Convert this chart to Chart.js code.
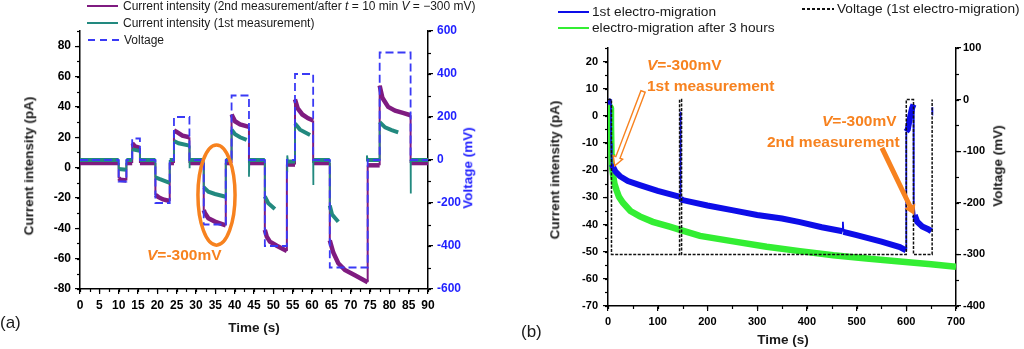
<!DOCTYPE html>
<html>
<head>
<meta charset="utf-8">
<script src="https://cdn.jsdelivr.net/npm/chart.js@4.4.1/dist/chart.umd.min.js"></script>
<style>
  body { margin: 0; background: #fff; }
  #fig { position: relative; width: 1024px; height: 349px; overflow: hidden; font-family: 'Liberation Sans', Arial, sans-serif; color: #1a1a1a; }
  #fig canvas { position: absolute; top: 0; }
  .t { position: absolute; white-space: nowrap; transform: translateY(-50%); line-height: 1; }
  .c { position: absolute; white-space: nowrap; transform: translate(-50%, -50%); line-height: 1; font-weight: bold; font-size: 13.5px; }
  .rot { position: absolute; white-space: nowrap; transform: translate(-50%, -50%) rotate(-90deg); line-height: 1; font-weight: bold; font-size: 13.5px; }
  .sw { position: absolute; height: 2px; transform: translateY(-50%); }
  .note { color: #f7821f; font-weight: bold; font-size: 15.5px; }
  .lgA { font-size: 12px; }
  .lgB { font-size: 13.7px; }
</style>
</head>
<body>
<div id="fig">
  <canvas id="chartA" width="512" height="349" style="left:0"></canvas>
  <canvas id="chartB" width="512" height="349" style="left:512px"></canvas>

  <!-- panel (a) legend -->
  <div class="sw" style="left:87px;top:5.5px;width:31px;background:#7f1b80"></div>
  <div class="t lgA" style="left:123px;top:5.5px">Current intensity (2nd measurement/after <i>t</i> = 10 min <i>V</i> = −300 mV)</div>
  <div class="sw" style="left:87px;top:23px;width:31px;background:#22897f"></div>
  <div class="t lgA" style="left:123px;top:23px">Current intensity (1st measurement)</div>
  <div class="sw" style="left:88px;top:40px;width:34px;background:repeating-linear-gradient(90deg,#3a3af5 0 7px,transparent 7px 12px)"></div>
  <div class="t lgA" style="left:124px;top:40px">Voltage</div>

  <!-- panel (a) titles and notes -->
  <div class="rot" style="left:29px;top:166px">Current intensity (pA)</div>
  <div class="rot" style="left:468px;top:168px;color:#1f1fff">Voltage (mV)</div>
  <div class="c" style="left:254px;top:328px">Time (s)</div>
  <div class="t" style="left:0;top:322px;font-size:17px">(a)</div>
  <div class="t note" style="left:147px;top:254.5px"><i>V</i>=-300mV</div>

  <!-- panel (b) legend -->
  <div class="sw" style="left:558px;top:11.7px;width:31px;background:#0d0de8"></div>
  <div class="t lgB" style="left:592px;top:11.7px">1st electro-migration</div>
  <div class="sw" style="left:558px;top:28px;width:31px;background:#33ee33"></div>
  <div class="t lgB" style="left:592px;top:28px">electro-migration after 3 hours</div>
  <div class="sw" style="left:802px;top:9px;width:32px;background:repeating-linear-gradient(90deg,#111 0 3px,transparent 3px 5px)"></div>
  <div class="t lgB" style="left:837px;top:9px">Voltage (1st electro-migration)</div>

  <!-- panel (b) titles and notes -->
  <div class="rot" style="left:555px;top:170px">Current intensity (pA)</div>
  <div class="rot" style="left:998px;top:166px">Voltage (mV)</div>
  <div class="c" style="left:783px;top:340px">Time (s)</div>
  <div class="t" style="left:521px;top:331px;font-size:17px">(b)</div>
  <div class="t note" style="left:647px;top:65px"><i>V</i>=-300mV</div>
  <div class="t note" style="left:647px;top:86px">1st measurement</div>
  <div class="t note" style="left:822px;top:121px"><i>V</i>=-300mV</div>
  <div class="t note" style="left:767px;top:141.5px">2nd measurement</div>
</div>

<script>
// (a) current steps, [time s, current pA]; null marks a break in the trace
const secondRunCurrent = [
  [0, 3], [10, 3], [10, -7], [10.5, -8], [12, -8.5], [12, 3], [13.5, 3], [13.5, 16], [14.2, 14], [15.5, 13], [15.5, 3],
  [19.5, 3], [19.5, -18], [20.3, -19.5], [21.5, -21], [23.2, -22], [23.2, 3], [24.3, 3], [24.3, 24.5], [25, 23.5], [26.5, 21], [28.3, 20], [28.3, 3],
  [32, 3], [32, -28], [32.3, -30], [33.2, -33.4], [34.9, -35.6], [37.7, -38], [37.7, 3], [39.2, 3], [39.2, 35], [40.1, 30.5], [41.4, 28.5], [43.7, 26.8], [43.7, 3],
  [47.8, 3], [47.8, -41], [48.3, -45.5], [49.1, -48.8], [50.9, -51.5], [53.5, -55], [53.5, 2], [55.6, 2], [55.6, 45], [56.3, 39], [57.5, 35], [59, 32.5], [60.3, 31], [60.3, 3],
  [64.6, 3], [64.6, -48], [65.5, -56], [66.8, -63], [68.5, -67.5], [71.1, -71], [74.4, -75.5], [74.4, 1.5], [77.5, 1.5], [77.5, 54], [78.2, 46], [79.7, 40], [81.5, 37.5], [83.5, 36], [85.5, 34.5], [85.5, 3], [90, 3]
];
const firstRunCurrent = [
  [0, 5], [10, 5], [10, -1], [12, -1.5], [12, 5], [13.5, 5], [13.5, 12], [15.5, 11], [15.5, 5],
  [19.5, 5], [19.5, -6.5], [20.5, -7.5], [23.2, -10], [23.2, 5], [24.3, 5], [24.3, 17.5], [25.5, 16], [28.3, 14.5], [28.3, -0.5], [28.4, 5],
  [32, 5], [32, -13], [32.3, -13.7], [33.2, -15.9], [34.9, -17.4], [37.7, -19.2], [37.7, 5], [39.2, 5], [39.2, 25], [40.1, 22], [41.4, 20], [43.1, 18.2], [43.1, null],
  [43.7, 5], [43.7, -6], [43.8, 5], [47.8, 5], [47.8, -19], [48.7, -23.5], [50.4, -27.3], [50.4, null],
  [53.6, -3], [53.6, 8], [53.8, 4], [55.6, 4], [55.6, 29], [56.9, 25], [59.5, 21.4], [59.5, null],
  [60.3, 5], [60.3, -11.5], [60.4, 5], [64.6, 5], [64.6, -25], [65.2, -31], [66.8, -35.7], [66.8, null],
  [74.2, 4], [74.2, 8], [74.4, 5], [77.5, 5], [77.5, 30], [78.9, 26.5], [80.6, 24.7], [82.3, 23.2], [82.3, null],
  [85.5, 5], [85.5, -17], [85.6, 5], [90, 5]
];
// (a) applied voltage, [time s, mV]
const pulseVoltage = [
  [0, 0], [10, 0], [10, -100], [12, -100], [12, 0], [13.5, 0], [13.5, 100], [15.5, 100], [15.5, 0],
  [19.5, 0], [19.5, -200], [23.2, -200], [23.2, 0], [24.3, 0], [24.3, 200], [28.3, 200], [28.3, 0],
  [32, 0], [32, -300], [37.7, -300], [37.7, 0], [39.2, 0], [39.2, 300], [43.7, 300], [43.7, 0],
  [47.8, 0], [47.8, -400], [53.5, -400], [53.5, 0], [55.6, 0], [55.6, 400], [60.3, 400], [60.3, 0],
  [64.6, 0], [64.6, -500], [74.4, -500], [74.4, 0], [77.5, 0], [77.5, 500], [85.5, 500], [85.5, 0], [90, 0]
];

// (b) electro-migration runs, [time s, current pA]
const firstMigration = [
  [0, 5.5], [6, 5], [6.3, -10], [7, -16], [8, -17.8], [10.7, -19], [15, -20.5], [24, -22.2], [40, -24], [64, -25.5], [100, -27.6], [145, -29.8],
  [145.5, 1.5], [146.5, -30.5], [150, -31], [200, -33], [252, -34.8], [300, -36.5], [350, -37.8], [386, -39.1], [430, -41], [472, -42.5],
  [472.5, -39], [473.5, -42.7], [500, -43.9], [550, -46.3], [587, -48.3], [599.5, -49.5],
  [600, -5.8], [603, -5], [607, -1], [611.5, 2.8], [614.5, 4.2], [615, -33], [617, -36.5], [622, -39], [632, -40.7], [645, -41.8], [650.5, -42.5], [650.5, null],
  [652, 0.5], [652.5, 3.2]
];
const migrationAfter3h = [
  [2, 4], [5.5, 3], [6, -3], [7, -14], [8, -18.5], [10.7, -22.4], [13, -25], [17, -27.3], [22, -29.8], [30, -32], [45, -35], [64, -37], [90, -39],
  [124, -40.8], [145, -42], [185, -44.2], [252, -46.2], [319, -48.2], [386, -49.8], [453, -51.3], [520, -52.5], [587, -53.6], [650, -54.6], [700, -55.6]
];
// (b) voltage of the first run, [time s, mV]
const migrationVoltage = [
  [0, 0], [7, 0], [7, -300], [144, -300], [144, 0], [148, 0], [148, -300], [600, -300], [600, 0],
  [614.5, 0], [614.5, -300], [652, -300], [652, 0]
];

const orange = '#f7821f';

function pts(list) {
  return list.map(([x, y]) => ({x, y}));
}

// recorded traces are thick, but the jumps between levels are thin strokes
function stepWidth(full, thin) {
  return ctx => Math.abs(ctx.p1.x - ctx.p0.x) < 1 ? thin : full;
}

// short unlabelled ticks between the major ones
const minorTicks = {
  id: 'minorTicks',
  afterDraw(chart, args, opts) {
    const {ctx} = chart;
    ctx.save();
    ctx.strokeStyle = '#000';
    ctx.lineWidth = 1.2;
    Object.entries(opts.steps || {}).forEach(([id, step]) => {
      const s = chart.scales[id];
      for (let i = Math.ceil(s.min / step); i * step <= s.max + 1e-9; i++) {
        const p = Math.round(s.getPixelForValue(i * step)) + 0.5;
        ctx.beginPath();
        if (s.isHorizontal()) {
          ctx.moveTo(p, s.top); ctx.lineTo(p, s.top + 3);
        } else if (s.position === 'left') {
          ctx.moveTo(s.right, p); ctx.lineTo(s.right - 3, p);
        } else {
          ctx.moveTo(s.left, p); ctx.lineTo(s.left + 3, p);
        }
        ctx.stroke();
      }
    });
    ctx.restore();
  }
};

function drawArrow(ctx, x1, y1, x2, y2, a) {
  const len = Math.hypot(x2 - x1, y2 - y1);
  ctx.save();
  ctx.translate(x1, y1);
  ctx.rotate(Math.atan2(y2 - y1, x2 - x1));
  ctx.beginPath();
  ctx.moveTo(0, -a.shaft / 2);
  ctx.lineTo(len - a.headL, -a.shaft / 2);
  ctx.lineTo(len - a.headL, -a.headW / 2);
  ctx.lineTo(len, 0);
  ctx.lineTo(len - a.headL, a.headW / 2);
  ctx.lineTo(len - a.headL, a.shaft / 2);
  ctx.lineTo(0, a.shaft / 2);
  ctx.closePath();
  ctx.fillStyle = a.fill;
  ctx.fill();
  if (a.stroke) {
    ctx.strokeStyle = a.stroke;
    ctx.lineWidth = 1.4;
    ctx.stroke();
  }
  ctx.restore();
}

// ellipses and arrows placed in data units
const noteMarks = {
  id: 'noteMarks',
  afterDraw(chart, args, opts) {
    const {ctx} = chart;
    const sx = chart.scales.x;
    (opts.ellipses || []).forEach(e => {
      const sy = chart.scales[e.axis];
      const cx = sx.getPixelForValue(e.x), cy = sy.getPixelForValue(e.y);
      const rx = Math.abs(sx.getPixelForValue(e.x + e.rx) - cx);
      const ry = Math.abs(sy.getPixelForValue(e.y + e.ry) - cy);
      ctx.save();
      ctx.beginPath();
      ctx.ellipse(cx, cy, rx, ry, 0, 0, 2 * Math.PI);
      ctx.strokeStyle = e.color;
      ctx.lineWidth = e.width;
      ctx.stroke();
      ctx.restore();
    });
    (opts.arrows || []).forEach(a => {
      const sy = chart.scales[a.axis];
      drawArrow(ctx, sx.getPixelForValue(a.from[0]), sy.getPixelForValue(a.from[1]),
        sx.getPixelForValue(a.to[0]), sy.getPixelForValue(a.to[1]), a);
    });
  }
};

function tickGrid() {
  return { drawOnChartArea: false, drawTicks: true, tickLength: 5, color: '#000', lineWidth: 1.2 };
}
const axisBorder = { display: true, color: '#000', width: 1.5 };

function createPanelA() {
  const ctx = document.getElementById('chartA');
  const tickFont = { size: 12, weight: 'bold' };
  new Chart(ctx, {
    type: 'line',
    data: {
      datasets: [
        { data: pts(pulseVoltage), yAxisID: 'yV', borderColor: '#3a3af5', borderWidth: 1.8, borderDash: [8, 4] },
        { data: pts(firstRunCurrent), yAxisID: 'yI', borderColor: '#22897f', borderWidth: 4,
          segment: { borderWidth: stepWidth(4, 1.8) } },
        { data: pts(secondRunCurrent), yAxisID: 'yI', borderColor: '#7f1b80', borderWidth: 4.5,
          segment: { borderWidth: stepWidth(4.5, 2) } }
      ]
    },
    options: {
      responsive: false,
      animation: false,
      layout: { padding: { top: 31, left: 0, right: 0, bottom: 0 } },
      elements: { point: { radius: 0 }, line: { tension: 0 } },
      plugins: {
        legend: { display: false },
        tooltip: { enabled: false },
        minorTicks: { steps: { x: 2.5, yI: 10, yV: 100 } },
        noteMarks: {
          ellipses: [{ axis: 'yI', x: 35.3, y: -18.1, rx: 4.8, ry: 33, color: orange, width: 3.5 }]
        }
      },
      scales: {
        x: {
          type: 'linear', min: 0, max: 90,
          afterFit: s => { s.height = 60; },
          ticks: { stepSize: 5, autoSkip: false, maxRotation: 0, padding: 4, color: '#000', font: tickFont },
          grid: tickGrid(), border: axisBorder
        },
        yI: {
          position: 'left', min: -80, max: 90,
          afterFit: s => { s.width = 80; },
          ticks: { stepSize: 20, includeBounds: false, padding: 4, color: '#000', font: tickFont },
          grid: tickGrid(), border: axisBorder
        },
        yV: {
          position: 'right', min: -600, max: 600,
          afterFit: s => { s.width = 84; },
          ticks: { stepSize: 200, padding: 4, color: '#1f1fff', font: tickFont },
          grid: tickGrid(), border: axisBorder
        }
      }
    },
    plugins: [minorTicks, noteMarks]
  });
}

function createPanelB() {
  const ctx = document.getElementById('chartB');
  const tickFont = { size: 11, weight: 'bold' };
  new Chart(ctx, {
    type: 'line',
    data: {
      datasets: [
        { data: pts(migrationVoltage), yAxisID: 'yV', borderColor: '#111', borderWidth: 1.5, borderDash: [3, 1.5] },
        { data: pts(firstMigration), yAxisID: 'yI', borderColor: '#0d0de8', borderWidth: 6,
          segment: { borderWidth: stepWidth(6, 1.8) } },
        { data: pts(migrationAfter3h), yAxisID: 'yI', borderColor: '#33ee33', borderWidth: 6.5 }
      ]
    },
    options: {
      responsive: false,
      animation: false,
      layout: { padding: { top: 48, left: 0, right: 0, bottom: 0 } },
      elements: { point: { radius: 0 }, line: { tension: 0 } },
      plugins: {
        legend: { display: false },
        tooltip: { enabled: false },
        minorTicks: { steps: { x: 50, yI: 5, yV: 50 } },
        noteMarks: {
          arrows: [
            { axis: 'yI', from: [70.5, 9], to: [13.5, -18.4], shaft: 4.5, headW: 10, headL: 9, fill: '#fff', stroke: orange },
            { axis: 'yI', from: [551, -11.8], to: [616, -36.5], shaft: 5, headW: 12, headL: 10, fill: orange }
          ]
        }
      },
      scales: {
        x: {
          type: 'linear', min: 0, max: 700,
          afterFit: s => { s.height = 43; },
          ticks: { stepSize: 100, autoSkip: false, maxRotation: 0, padding: 4, color: '#000', font: tickFont },
          grid: tickGrid(), border: axisBorder
        },
        yI: {
          position: 'left', min: -70, max: 25,
          afterFit: s => { s.width = 96; },
          ticks: { stepSize: 10, includeBounds: false, padding: 5, color: '#000', font: tickFont },
          grid: tickGrid(), border: axisBorder
        },
        yV: {
          position: 'right', min: -400, max: 100,
          afterFit: s => { s.width = 68; },
          ticks: { stepSize: 100, padding: 2, color: '#000', font: tickFont },
          grid: tickGrid(), border: axisBorder
        }
      }
    },
    plugins: [minorTicks, noteMarks]
  });
}

createPanelA();
createPanelB();
</script>
</body>
</html>
